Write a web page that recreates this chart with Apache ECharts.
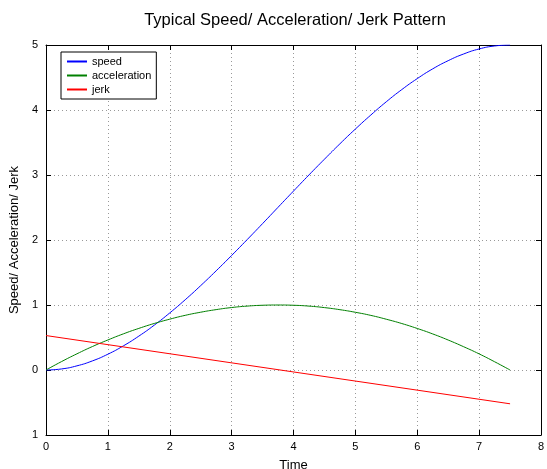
<!DOCTYPE html>
<html>
<head>
<meta charset="utf-8">
<script src="https://cdn.jsdelivr.net/npm/echarts@6/dist/echarts.min.js"></script>
<style>
  html, body { margin: 0; padding: 0; background: #fff; }
  #main { width: 547px; height: 469px; }
</style>
</head>
<body>
<div id="main"></div>
<script>
// values
var time = [0, 0.25, 0.5, 0.75, 1, 1.25, 1.5, 1.75, 2, 2.25, 2.5, 2.75, 3, 3.25, 3.5, 3.75,
            4, 4.25, 4.5, 4.75, 5, 5.25, 5.5, 5.75, 6, 6.25, 6.5, 6.75, 7, 7.25, 7.5];
var speed = [0, 0.016, 0.064, 0.14, 0.243, 0.371, 0.521, 0.69, 0.878, 1.081, 1.298, 1.526, 1.762, 2.005, 2.252, 2.503,
             2.753, 3.001, 3.243, 3.48, 3.707, 3.923, 4.127, 4.314, 4.483, 4.633, 4.759, 4.862, 4.939, 4.985, 5.0];
var acceleration = [0, 0.129, 0.249, 0.361, 0.462, 0.556, 0.64, 0.716, 0.782, 0.841, 0.889, 0.929, 0.961, 0.983, 0.996, 1.0,
                    0.996, 0.983, 0.96, 0.928, 0.888, 0.84, 0.781, 0.715, 0.639, 0.555, 0.461, 0.358, 0.248, 0.127, 0];
var jerkTime = [0, 7.5];
var jerk = [0.53, -0.52];
var yTickLabels = ['1', '0', '1', '2', '3', '4', '5'];

function pairs(xs, ys) {
  return xs.map(function (t, i) { return [t, ys[i]]; });
}

var font = 'Liberation Sans, Arial, sans-serif';
var chart = echarts.init(document.getElementById('main'));

var axisLine = { show: true, onZero: false, lineStyle: { color: '#000', width: 1 } };
var tick = { show: true, inside: true, length: 5, lineStyle: { color: '#000' } };
var grid = { show: true, lineStyle: { color: '#999', type: [1, 3], width: 1 } };

var option = {
  animation: false,
  backgroundColor: '#fff',
  title: {
    text: 'Typical Speed/ Acceleration/ Jerk Pattern',
    left: 290, top: 7, textAlign: 'center',
    textStyle: { fontFamily: font, fontSize: 16.5, fontWeight: 'normal', color: '#000' }
  },
  legend: {
    orient: 'vertical',
    left: 61, top: 52,
    itemWidth: 20, itemHeight: 2, itemGap: 3,
    padding: [4, 5, 4, 6],
    borderColor: '#000', borderWidth: 1,
    backgroundColor: '#fff',
    icon: 'rect',
    textStyle: { fontFamily: font, fontSize: 11, color: '#000' },
    data: ['speed', 'acceleration', 'jerk']
  },
  grid: { left: 46, right: 6, top: 45, bottom: 34, outerBoundsMode: 'none' },
  xAxis: [
    {
      type: 'value', min: 0, max: 8, interval: 1,
      name: 'Time', nameLocation: 'middle', nameGap: 24,
      nameTextStyle: { fontFamily: font, fontSize: 13, color: '#000' },
      axisLine: axisLine, axisTick: tick, splitLine: grid,
      axisLabel: { fontFamily: font, fontSize: 11, color: '#000', margin: 6 }
    },
    {
      type: 'value', min: 0, max: 8, interval: 1, position: 'top',
      axisLine: axisLine, axisTick: tick, splitLine: { show: false },
      axisLabel: { show: false }
    }
  ],
  yAxis: [
    {
      type: 'value', min: -1, max: 5, interval: 1,
      name: 'Speed/ Acceleration/ Jerk', nameLocation: 'middle', nameGap: 17,
      nameTextStyle: { fontFamily: font, fontSize: 13, color: '#000' },
      axisLine: axisLine, axisTick: tick, splitLine: grid,
      axisLabel: {
        fontFamily: font, fontSize: 11, color: '#000', margin: 8,
        formatter: function (v) { return yTickLabels[Math.round(v) + 1]; }
      }
    },
    {
      type: 'value', min: -1, max: 5, interval: 1, position: 'right',
      axisLine: axisLine, axisTick: tick, splitLine: { show: false },
      axisLabel: { show: false }
    }
  ],
  series: [
    {
      name: 'speed', type: 'line', data: pairs(time, speed), smooth: true,
      showSymbol: false, color: '#0000ff', lineStyle: { width: 1 }
    },
    {
      name: 'acceleration', type: 'line', data: pairs(time, acceleration), smooth: true,
      showSymbol: false, color: '#008000', lineStyle: { width: 1 }
    },
    {
      name: 'jerk', type: 'line', data: pairs(jerkTime, jerk),
      showSymbol: false, color: '#ff0000', lineStyle: { width: 1 }
    }
  ]
};

chart.setOption(option);
</script>
</body>
</html>
